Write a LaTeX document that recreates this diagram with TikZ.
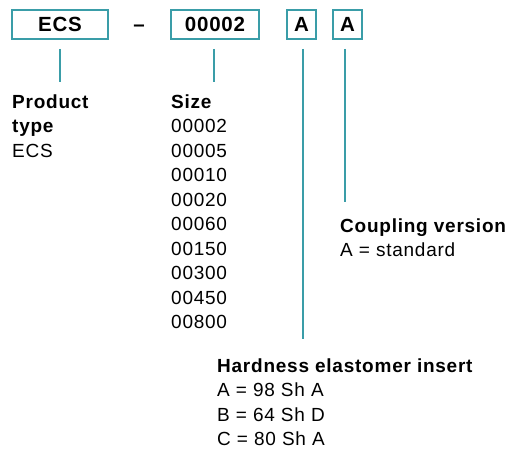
\documentclass[tikz,border=0pt]{standalone}
\usepackage{fontspec}
\setmainfont{Liberation Sans}[LetterSpace=4]
\usetikzlibrary{positioning}
\definecolor{tealx}{HTML}{3A9DA8}
\tikzset{
  codebox/.style={draw=tealx,line width=1.8pt,minimum height=29pt,inner sep=0pt,font=\fontsize{20.5}{24.5}\selectfont\bfseries},
  lead/.style={draw=tealx,line width=2pt,shorten <=9pt},
  info/.style={align=left,anchor=base west,inner sep=0pt}
}
\begin{document}
\begin{tikzpicture}[x=1pt,y=-1pt,font=\fontsize{19}{24.5}\selectfont]
\useasboundingbox (0,0) rectangle (508,452);
% code boxes
\node[codebox,minimum width=96pt] (ecs) at (60,24.5) {ECS};
\node[font=\fontsize{20.5}{24.5}\selectfont\bfseries,anchor=base,inner sep=0pt] (dash) at (139,32) {\textendash};
\node[codebox,minimum width=88pt] (size) at (215,24.5) {00002};
\node[codebox,minimum width=29pt] (hard) at (301.5,24.5) {A};
\node[codebox,minimum width=29pt] (coup) at (347.5,24.5) {A};
% descriptions (anchored at the baseline of the last line)
\node[info] (prodtxt) at (12,157) {\textbf{Product}\\\textbf{type}\\ECS};
\node[info] (sizetxt) at (171,328.5) {\textbf{Size}\\00002\\00005\\00010\\00020\\00060\\00150\\00300\\00450\\00800};
\node[info] (couptxt) at (340,256.5) {\textbf{Coupling version}\\A = standard};
\node[info] (hardtxt) at (217,445.5) {\textbf{Hardness elastomer insert}\\A = 98 Sh A\\B = 64 Sh D\\C = 80 Sh A};
% leader lines
\draw[lead,shorten >=12pt] (ecs.south) -- (ecs.south |- prodtxt.north);
\draw[lead,shorten >=12pt] ([xshift=-1pt]size.south) -- ([xshift=-1pt]size.south |- sizetxt.north);
\draw[lead,shorten >=19pt] ([xshift=1.5pt]hard.south) -- ([xshift=1.5pt]hard.south |- hardtxt.north);
\draw[lead,shorten >=16pt] ([xshift=-2.5pt]coup.south) -- ([xshift=-2.5pt]coup.south |- couptxt.north);
\end{tikzpicture}
\end{document}
